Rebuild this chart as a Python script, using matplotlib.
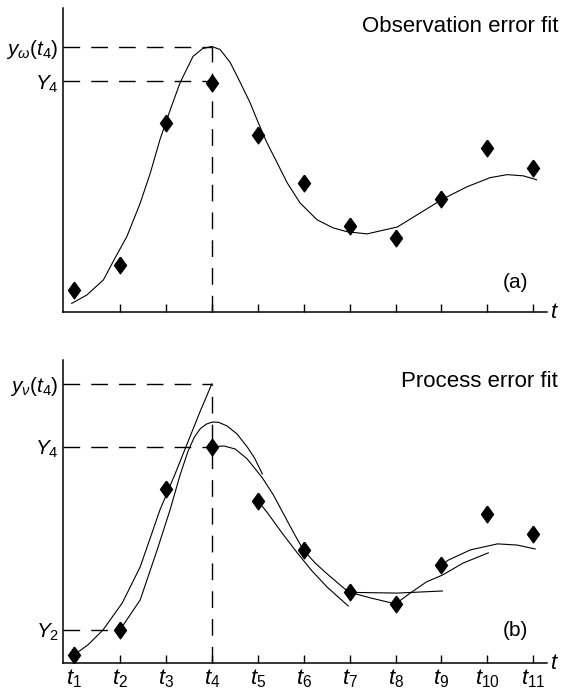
import matplotlib
matplotlib.use('Agg')
import matplotlib.pyplot as plt

plt.rcParams['font.family'] = ['Liberation Sans', 'DejaVu Sans']
plt.rcParams['mathtext.fontset'] = 'custom'
plt.rcParams['mathtext.it'] = 'Liberation Sans:italic'
plt.rcParams['mathtext.rm'] = 'Liberation Sans'
plt.rcParams['mathtext.sf'] = 'Liberation Sans'

# observation times t1..t11
t_obs = list(range(1, 12))
tick_labels = [r'$t_{%d}$' % i for i in t_obs]

# (a) observation error fit
obs_a = [7.3, 15.7, 63, 76.3, 59, 43, 28.7, 24.7, 37.7, 54.7, 48]
fit_a_t = [0.95, 1.28, 1.64, 1.89, 2.15, 2.44, 2.66, 2.87, 3.1, 3.31, 3.59,
           3.8, 4.0, 4.18, 4.4, 4.62, 4.83, 5.01, 5.2, 5.42, 5.64, 5.92,
           6.29, 6.64, 6.95, 7.38, 8.04, 8.54, 9.04, 9.56, 10.06, 10.43,
           10.78, 11.07]
fit_a_y = [2.9, 5.7, 10.7, 17.9, 25.1, 36.2, 46.2, 57.3, 67.5, 76.3, 85,
           87.6, 88.3, 87.3, 83, 76.3, 69.7, 63, 56.3, 49.7, 43, 36.3,
           30.7, 28, 26.7, 26, 28.3, 33, 37.7, 41.7, 44.7, 45.7,
           45.3, 44]
y4_a = 76.7
yw_a = 88.3

# (b) process error fit
obs_b = [2.7, 11, 58, 72, 54, 37.7, 23.7, 19.7, 32.7, 49.7, 43]
seg1_t = [1.0, 1.3, 1.63, 2.05, 2.44, 2.66, 2.87, 3.2, 3.48, 3.75, 4.0]
seg1_y = [2.7, 6, 11, 20, 32, 41.7, 51, 63, 73.7, 84, 93]
seg2_t = [2.0, 2.44, 2.81, 3.09, 3.31, 3.48, 3.62, 3.75, 3.88, 4.01, 4.15,
          4.33, 4.55, 4.77, 4.93, 5.1]
seg2_y = [11, 21, 37.7, 51, 62.7, 70.5, 75.3, 78.1, 79.6, 80.3, 80.2,
          79, 76.3, 72, 68.3, 63]
seg4_t = [4.0, 4.14, 4.27, 4.51, 4.77, 5.1, 5.34, 5.55, 5.77, 5.99, 6.25,
          6.51, 6.97, 7.45, 8.0]
seg4_y = [72, 72.2, 72.3, 71.3, 68, 61.7, 56, 50, 43.7, 37.7, 33.3,
          29.7, 23.7, 21.7, 19.7]
seg5_t = [5.0, 5.2, 5.53, 5.86, 6.18, 6.51, 6.75, 6.97]
seg5_y = [54, 50.3, 43.3, 36.7, 30.7, 25.3, 22, 19]
seg7_t = [7.0, 7.17, 8.04, 9.02]
seg7_y = [23.7, 23.5, 23.3, 24]
seg8_t = [8.0, 8.32, 8.67, 9.02, 9.47, 10.02]
seg8_y = [19.7, 23.3, 27, 29.3, 33.3, 36.7]
seg9_t = [9.0, 9.15, 9.63, 10.22, 10.65, 11.04]
seg9_y = [32.7, 34.3, 37.7, 39.7, 39.3, 38]
y2_b = 11
y4_b = 72
yv_b = 93

diamond = [(0, 1), (0.72, 0), (0, -1), (-0.72, 0), (0, 1)]
x0, x1 = 0.76, 11.3


def style_axes(ax):
    ax.set_xlim(x0, x1)
    ax.set_ylim(0, 101)
    ax.spines['top'].set_visible(False)
    ax.spines['right'].set_visible(False)
    ax.spines['left'].set_linewidth(1.1)
    ax.spines['bottom'].set_linewidth(1.1)
    ax.set_xticks(t_obs)
    ax.tick_params(axis='x', direction='in', length=6, width=1, pad=3,
                   labelsize=16)
    ax.tick_params(axis='y', length=0, pad=3, labelsize=15)
    ax.xaxis.get_major_ticks()[0].tick1line.set_visible(False)
    ax.text(1.008, 0, 't', transform=ax.transAxes, style='italic',
            fontsize=16, ha='left', va='center')


def dashed(ax, xs, ys):
    ax.plot(xs, ys, color='k', lw=1, dashes=(12, 8), clip_on=False)


fig = plt.figure(figsize=(5.61, 6.92), dpi=100)
ax1 = fig.add_axes([0.1123, 0.549, 0.863, 0.439])
ax2 = fig.add_axes([0.1123, 0.0419, 0.863, 0.438])

# panel (a)
style_axes(ax1)
ax1.set_xticklabels([])
ax1.set_yticks([y4_a, yw_a])
ax1.set_yticklabels([r'$Y_4$', r'$y_{\omega}(t_4)$'])
dashed(ax1, [x0, 4], [yw_a, yw_a])
dashed(ax1, [x0, 4], [y4_a, y4_a])
dashed(ax1, [4, 4], [0, yw_a])
ax1.plot(fit_a_t, fit_a_y, color='k', lw=0.8)
ax1.plot(t_obs, obs_a, linestyle='none', marker=diamond, markersize=12,
         color='k')
ax1.text(1.023, 0.921, 'Observation error fit', transform=ax1.transAxes,
         ha='right', va='baseline', fontsize=16)
ax1.text(0.961, 0.099, '(a)', transform=ax1.transAxes, ha='right',
         va='center', fontsize=15)

# panel (b)
style_axes(ax2)
ax2.set_xticklabels(tick_labels)
ax2.set_yticks([y2_b, y4_b, yv_b])
ax2.set_yticklabels([r'$Y_2$', r'$Y_4$', r'$y_{\nu}(t_4)$'])
dashed(ax2, [x0, 4], [yv_b, yv_b])
dashed(ax2, [x0, 4], [y4_b, y4_b])
dashed(ax2, [x0, 2], [y2_b, y2_b])
dashed(ax2, [4, 4], [0, yv_b])
for st, sy in [(seg1_t, seg1_y), (seg2_t, seg2_y), (seg4_t, seg4_y),
               (seg5_t, seg5_y), (seg7_t, seg7_y), (seg8_t, seg8_y),
               (seg9_t, seg9_y)]:
    ax2.plot(st, sy, color='k', lw=0.8)
ax2.plot(t_obs, obs_b, linestyle='none', marker=diamond, markersize=12,
         color='k')
ax2.text(1.023, 0.911, 'Process error fit', transform=ax2.transAxes,
         ha='right', va='baseline', fontsize=16)
ax2.text(0.961, 0.106, '(b)', transform=ax2.transAxes, ha='right',
         va='center', fontsize=15)

fig.savefig('out.png', dpi=100)
